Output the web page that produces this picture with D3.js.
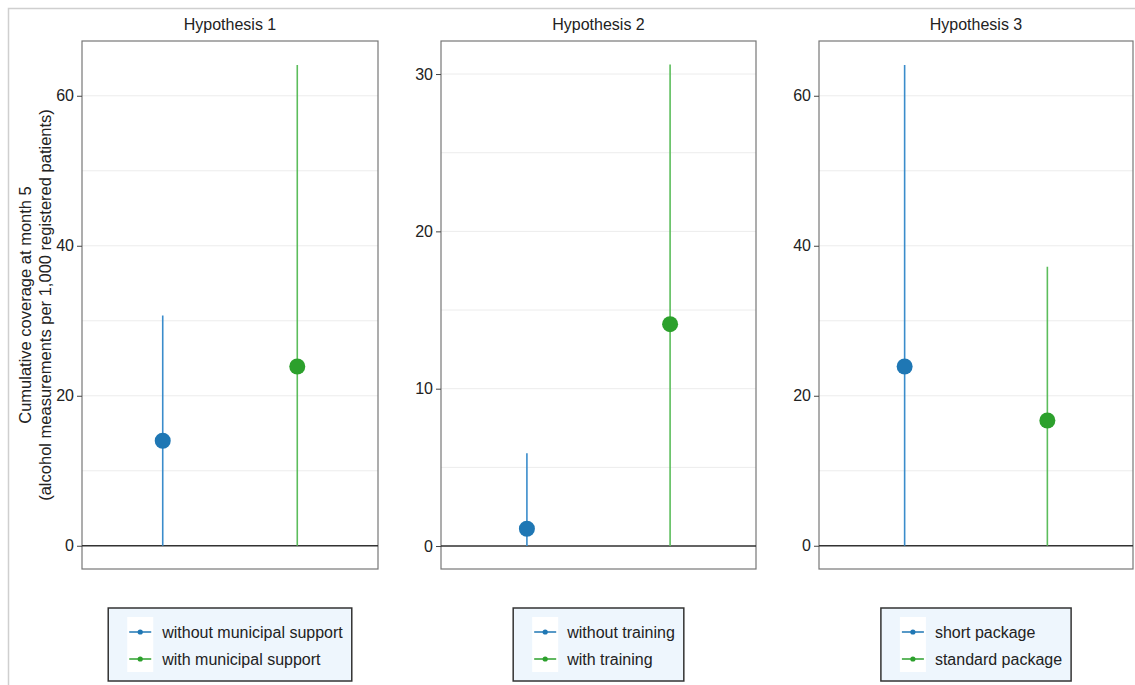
<!DOCTYPE html>
<html>
<head>
<meta charset="utf-8">
<script src="https://cdn.jsdelivr.net/npm/d3@7"></script>
<style>
  body { margin: 0; background: #fff; }
  text { font-family: "Liberation Sans", Arial, Helvetica, sans-serif; fill: #222; }
</style>
</head>
<body>
<div id="chart"></div>
<script>
// Chart data;
const panelTitles = ["Hypothesis 1", "Hypothesis 2", "Hypothesis 3"]
const groupLabels = [
    ["without municipal support", "with municipal support"],
    ["without training", "with training"],
    ["short package", "standard package"]
]
const estimates = [[14.0, 23.9], [1.1, 14.1], [23.9, 16.7]]
const lowerCI = [[0, 0], [0, 0], [0, 0]]
const upperCI = [[30.7, 64.1], [5.9, 30.6], [64.1, 37.2]]
const yDomains = [[-3.1, 67.3], [-1.46, 32.1], [-3.1, 67.3]]
const yTickValues = [[0, 20, 40, 60], [0, 10, 20, 30], [0, 20, 40, 60]]
const yGridValues = [
    [0, 10, 20, 30, 40, 50, 60],
    [0, 5, 10, 15, 20, 25, 30],
    [0, 10, 20, 30, 40, 50, 60]
]
const yLabelLines = ["Cumulative coverage at month 5", "(alcohol measurements per 1,000 registered patients)"]

// Layout;
const width = 1135, height = 685
const plotTop = 41, plotBottom = 569
const panelX = [[82, 378], [441, 756], [819, 1133]]
const pointColors = ["#1f77b4", "#2ca02c"]
const lineColors = ["#3a8ccb", "#5cbd5c"]
const fontSize = "16px"

const svg = d3.select("#chart").append("svg")
    .attr("width", width)
    .attr("height", height)

// Outer frame;
svg.append("rect")
    .attr("x", 8.5).attr("y", 8.5)
    .attr("width", width).attr("height", height)
    .attr("fill", "none").attr("stroke", "#cfcfcf").attr("stroke-width", 1.5)

// Y axis title;
const yLab = svg.append("text")
    .attr("transform", `translate(31, ${(plotTop + plotBottom) / 2}) rotate(-90)`)
    .attr("text-anchor", "middle")
    .style("font-size", "16.5px")
yLab.selectAll("tspan").data(yLabelLines).join("tspan")
    .attr("x", 0).attr("dy", (d, i) => i == 0 ? 0 : 19.5)
    .text(d => d)

panelTitles.forEach((title, p) => {
    const [x0, x1] = panelX[p]
    const g = svg.append("g")

    const y = d3.scaleLinear().domain(yDomains[p]).range([plotBottom, plotTop])
    const x = d3.scalePoint().domain([0, 1]).range([x0, x1]).padding(0.6)

    // Gridlines;
    g.selectAll(".grid").data(yGridValues[p]).join("line")
        .attr("x1", x0).attr("x2", x1)
        .attr("y1", d => y(d)).attr("y2", d => y(d))
        .attr("stroke", "#ececec").attr("stroke-width", 1)

    // Plot frame;
    g.append("rect")
        .attr("x", x0).attr("y", plotTop)
        .attr("width", x1 - x0).attr("height", plotBottom - plotTop)
        .attr("fill", "none").attr("stroke", "#777").attr("stroke-width", 1.2)

    // Zero line;
    g.append("line")
        .attr("x1", x0).attr("x2", x1)
        .attr("y1", y(0)).attr("y2", y(0))
        .attr("stroke", "#333").attr("stroke-width", 1.5)

    // Y axis;
    const axis = g.append("g")
        .attr("transform", `translate(${x0},0)`)
        .call(d3.axisLeft(y).tickValues(yTickValues[p]).tickSize(5).tickPadding(3))
    axis.select(".domain").remove()
    axis.selectAll(".tick line").attr("stroke", "#444")
    axis.selectAll(".tick text")
        .style("font-size", fontSize)
        .style("font-family", '"Liberation Sans", Arial, sans-serif')
        .attr("fill", "#222")

    // Panel title;
    g.append("text")
        .attr("x", (x0 + x1) / 2).attr("y", 30)
        .attr("text-anchor", "middle")
        .style("font-size", fontSize)
        .text(title)

    // CI lines and points;
    const rows = [0, 1].map(i => ({ i, est: estimates[p][i], lo: lowerCI[p][i], hi: upperCI[p][i] }))
    g.selectAll(".ci").data(rows).join("line")
        .attr("x1", d => x(d.i)).attr("x2", d => x(d.i))
        .attr("y1", d => y(d.lo)).attr("y2", d => y(d.hi))
        .attr("stroke", d => lineColors[d.i]).attr("stroke-width", 1.6)
    g.selectAll(".pt").data(rows).join("circle")
        .attr("cx", d => x(d.i)).attr("cy", d => y(d.est))
        .attr("r", 8)
        .attr("fill", d => pointColors[d.i])

    // Legend;
    const leg = g.append("g")
    const labels = leg.selectAll(".lt").data(groupLabels[p]).join("text")
        .attr("y", (d, i) => 638 + i * 27)
        .style("font-size", fontSize)
        .text(d => d)
    const textW = d3.max(labels.nodes(), n => n.getComputedTextLength())
    const legW = 19 + 26 + 9 + textW + 9
    const lx = (x0 + x1) / 2 - legW / 2
    labels.attr("x", lx + 54)
    leg.insert("rect", "text")
        .attr("x", lx).attr("y", 608)
        .attr("width", legW).attr("height", 73)
        .attr("fill", "#eef6fd").attr("stroke", "#333").attr("stroke-width", 1.5)
    leg.insert("rect", "text")
        .attr("x", lx + 19).attr("y", 617)
        .attr("width", 26).attr("height", 55)
        .attr("fill", "#fff")
    ;[0, 1].forEach(i => {
        const ky = 632 + i * 27
        leg.append("line")
            .attr("x1", lx + 21).attr("x2", lx + 43)
            .attr("y1", ky).attr("y2", ky)
            .attr("stroke", pointColors[i]).attr("stroke-width", 1.5)
        leg.append("circle")
            .attr("cx", lx + 32).attr("cy", ky).attr("r", 2.6)
            .attr("fill", pointColors[i])
    })
})
</script>
</body>
</html>
